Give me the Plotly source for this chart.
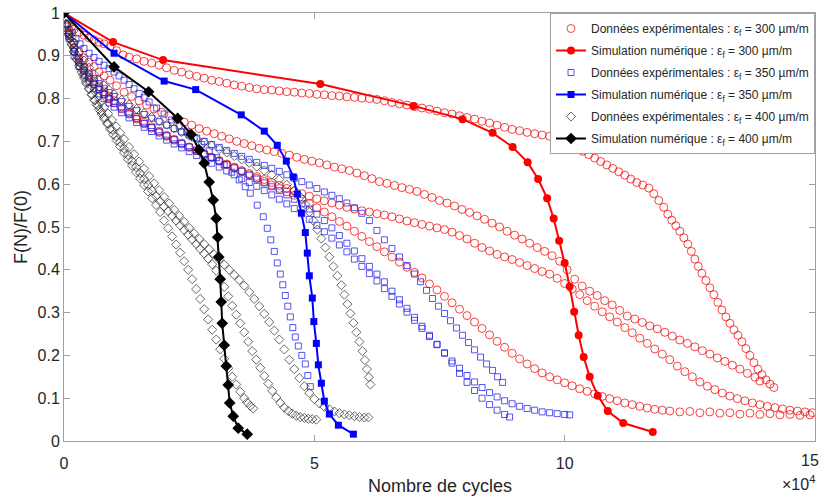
import plotly.graph_objects as go

# ---------------- data (x in units of 10^4 cycles, y = F(N)/F(0)) ----------------
# Experimental, eps_f = 300 um/m (four specimens)
exp300_a = [(0,1),(0.05,0.985),(0.1,0.975),(0.15,0.968),(0.2,0.962),(0.3,0.955),(0.4,0.948),(0.5,0.942),(0.6,0.937),(0.7,0.932),(0.8,0.928),(0.92,0.922),(1.05,0.912),(1.18,0.902),(1.3,0.897),(1.45,0.893),(1.6,0.887),(1.75,0.883),(1.9,0.878),(2.05,0.872),(2.2,0.866),(2.35,0.862),(2.5,0.856),(2.65,0.852),(2.8,0.848),(2.95,0.843),(3.1,0.84),(3.25,0.836),(3.4,0.832),(3.55,0.829),(3.7,0.826),(3.85,0.823),(4.0,0.821),(4.15,0.82),(4.3,0.818),(4.45,0.816),(4.6,0.815),(4.75,0.813),(4.9,0.812),(5.05,0.81),(5.2,0.809),(5.35,0.807),(5.5,0.806),(5.65,0.804),(5.8,0.803),(5.95,0.801),(6.1,0.8),(6.25,0.798),(6.4,0.795),(6.55,0.791),(6.7,0.788),(6.85,0.785),(7.0,0.781),(7.15,0.778),(7.3,0.775),(7.45,0.771),(7.6,0.767),(7.75,0.764),(7.9,0.76),(8.05,0.756),(8.2,0.752),(8.35,0.747),(8.5,0.743),(8.65,0.738),(8.8,0.733),(8.95,0.728),(9.1,0.725),(9.25,0.721),(9.4,0.718),(9.55,0.715),(9.7,0.712),(9.85,0.709),(10.0,0.704),(10.12,0.694),(10.24,0.685),(10.36,0.677),(10.48,0.669),(10.6,0.661),(10.72,0.653),(10.84,0.645),(10.96,0.637),(11.08,0.629),(11.2,0.621),(11.32,0.612),(11.44,0.604),(11.56,0.598),(11.68,0.591),(11.78,0.578),(11.88,0.562),(11.98,0.546),(12.06,0.53),(12.14,0.516),(12.22,0.503),(12.3,0.49),(12.38,0.475),(12.46,0.46),(12.53,0.443),(12.6,0.425),(12.67,0.408),(12.74,0.392),(12.82,0.375),(12.9,0.358),(12.98,0.342),(13.06,0.324),(13.14,0.306),(13.22,0.29),(13.3,0.275),(13.38,0.26),(13.46,0.247),(13.54,0.232),(13.62,0.216),(13.7,0.2),(13.78,0.183),(13.86,0.168),(13.94,0.155),(14.02,0.143),(14.1,0.133),(14.18,0.125)]
exp300_b = [(0,1),(0.1,0.96),(0.2,0.93),(0.3,0.91),(0.4,0.895),(0.5,0.885),(0.6,0.875),(0.7,0.862),(0.8,0.853),(0.92,0.843),(1.05,0.83),(1.2,0.815),(1.35,0.805),(1.5,0.795),(1.65,0.785),(1.8,0.776),(1.95,0.768),(2.1,0.76),(2.25,0.752),(2.4,0.745),(2.55,0.738),(2.7,0.73),(2.85,0.724),(3.0,0.718),(3.15,0.712),(3.3,0.706),(3.45,0.7),(3.6,0.695),(3.75,0.69),(3.9,0.684),(4.05,0.68),(4.2,0.676),(4.35,0.672),(4.5,0.668),(4.65,0.663),(4.8,0.658),(4.95,0.654),(5.1,0.65),(5.25,0.645),(5.4,0.64),(5.55,0.636),(5.7,0.632),(5.85,0.626),(6.0,0.62),(6.15,0.613),(6.3,0.606),(6.45,0.602),(6.6,0.597),(6.75,0.592),(6.9,0.588),(7.05,0.583),(7.2,0.576),(7.35,0.569),(7.5,0.562),(7.65,0.556),(7.8,0.549),(7.95,0.541),(8.1,0.534),(8.25,0.526),(8.4,0.518),(8.55,0.509),(8.7,0.5),(8.85,0.49),(9.0,0.481),(9.15,0.472),(9.3,0.462),(9.45,0.452),(9.6,0.443),(9.75,0.433),(9.9,0.42),(10.05,0.4),(10.2,0.378),(10.35,0.362),(10.5,0.35),(10.65,0.34),(10.8,0.328),(10.95,0.318),(11.1,0.305),(11.25,0.292),(11.4,0.285),(11.55,0.277),(11.7,0.269),(11.85,0.262),(12.0,0.254),(12.15,0.245),(12.3,0.236),(12.45,0.228),(12.6,0.22),(12.75,0.211),(12.9,0.203),(13.05,0.194),(13.2,0.186),(13.35,0.177),(13.5,0.168),(13.65,0.158),(13.8,0.149),(13.9,0.14)]
exp300_c = [(0,1),(0.1,0.952),(0.2,0.918),(0.3,0.893),(0.4,0.872),(0.5,0.856),(0.6,0.841),(0.7,0.828),(0.8,0.816),(0.9,0.805),(1.0,0.795),(1.15,0.781),(1.3,0.768),(1.45,0.756),(1.6,0.745),(1.75,0.734),(1.9,0.724),(2.05,0.714),(2.2,0.705),(2.35,0.696),(2.5,0.687),(2.65,0.679),(2.8,0.671),(2.95,0.663),(3.1,0.655),(3.25,0.647),(3.4,0.64),(3.55,0.632),(3.7,0.625),(3.85,0.618),(4.0,0.611),(4.15,0.604),(4.3,0.597),(4.45,0.59),(4.6,0.584),(4.75,0.578),(4.9,0.572),(5.05,0.566),(5.2,0.561),(5.35,0.556),(5.5,0.551),(5.65,0.546),(5.8,0.542),(5.95,0.538),(6.1,0.535),(6.25,0.531),(6.4,0.528),(6.55,0.524),(6.7,0.519),(6.85,0.514),(7.0,0.51),(7.15,0.506),(7.3,0.502),(7.45,0.498),(7.6,0.494),(7.75,0.488),(7.9,0.48),(8.05,0.472),(8.2,0.462),(8.35,0.452),(8.5,0.444),(8.65,0.436),(8.8,0.43),(8.95,0.424),(9.1,0.417),(9.25,0.41),(9.4,0.403),(9.55,0.396),(9.7,0.39),(9.85,0.38),(10.0,0.368),(10.15,0.355),(10.3,0.342),(10.45,0.328),(10.6,0.315),(10.75,0.302),(10.9,0.29),(11.05,0.278),(11.2,0.265),(11.35,0.253),(11.5,0.24),(11.65,0.228),(11.8,0.215),(11.95,0.203),(12.1,0.19),(12.25,0.175),(12.4,0.162),(12.55,0.15),(12.7,0.138),(12.85,0.128),(13.0,0.12),(13.15,0.112),(13.3,0.105),(13.45,0.099),(13.6,0.094),(13.75,0.089),(13.9,0.085),(14.05,0.081),(14.2,0.078),(14.35,0.075),(14.5,0.072),(14.65,0.07),(14.8,0.068),(14.95,0.066)]
exp300_d = [(0,1),(0.1,0.95),(0.2,0.91),(0.3,0.885),(0.4,0.865),(0.5,0.85),(0.6,0.835),(0.7,0.822),(0.8,0.81),(0.9,0.8),(1.0,0.79),(1.15,0.776),(1.3,0.764),(1.45,0.752),(1.6,0.741),(1.75,0.731),(1.9,0.721),(2.05,0.712),(2.2,0.703),(2.35,0.694),(2.5,0.686),(2.65,0.678),(2.8,0.67),(2.95,0.662),(3.1,0.654),(3.25,0.646),(3.4,0.638),(3.55,0.63),(3.7,0.622),(3.85,0.614),(4.0,0.606),(4.15,0.598),(4.3,0.59),(4.45,0.582),(4.6,0.574),(4.75,0.565),(4.9,0.555),(5.05,0.545),(5.2,0.535),(5.35,0.524),(5.5,0.513),(5.65,0.502),(5.8,0.49),(5.95,0.478),(6.1,0.466),(6.25,0.454),(6.4,0.442),(6.55,0.43),(6.7,0.418),(6.85,0.406),(7.0,0.394),(7.15,0.381),(7.3,0.367),(7.45,0.353),(7.6,0.338),(7.75,0.323),(7.9,0.308),(8.05,0.293),(8.2,0.278),(8.35,0.263),(8.5,0.248),(8.65,0.233),(8.8,0.219),(8.95,0.205),(9.1,0.192),(9.25,0.18),(9.4,0.169),(9.55,0.159),(9.7,0.15),(9.85,0.143),(10.0,0.136),(10.15,0.129),(10.3,0.122),(10.45,0.116),(10.6,0.11),(10.75,0.104),(10.9,0.099),(11.05,0.094),(11.2,0.089),(11.35,0.085),(11.5,0.081),(11.65,0.077),(11.8,0.074),(11.95,0.072),(12.1,0.07),(12.3,0.068),(12.5,0.069),(12.7,0.066),(12.9,0.068),(13.1,0.065),(13.3,0.066),(13.5,0.063),(13.7,0.065),(13.9,0.062),(14.1,0.064),(14.3,0.061),(14.5,0.062),(14.7,0.06),(14.9,0.061)]

# Experimental, eps_f = 350 um/m (four specimens)
exp350_a = [(0,1),(0.08,0.975),(0.16,0.955),(0.24,0.94),(0.32,0.928),(0.4,0.917),(0.5,0.906),(0.6,0.896),(0.7,0.887),(0.8,0.878),(0.9,0.87),(1.0,0.862),(1.1,0.853),(1.2,0.843),(1.3,0.833),(1.4,0.823),(1.5,0.812),(1.6,0.802),(1.7,0.792),(1.85,0.778),(2.0,0.764),(2.15,0.75),(2.3,0.736),(2.45,0.722),(2.6,0.708),(2.75,0.693),(2.9,0.678),(3.05,0.662),(3.2,0.645),(3.35,0.628),(3.5,0.61),(3.62,0.594),(3.72,0.579),(3.86,0.551),(3.98,0.524),(4.06,0.497),(4.13,0.47),(4.2,0.443),(4.26,0.416),(4.32,0.39),(4.37,0.365),(4.42,0.34),(4.47,0.315),(4.52,0.29),(4.57,0.265),(4.62,0.243),(4.68,0.222),(4.75,0.2),(4.82,0.18),(4.87,0.153),(4.92,0.127)]
exp350_b = [(0,1),(0.1,0.95),(0.2,0.92),(0.3,0.895),(0.4,0.875),(0.5,0.86),(0.6,0.847),(0.7,0.835),(0.8,0.824),(0.9,0.814),(1.0,0.805),(1.15,0.793),(1.3,0.782),(1.45,0.772),(1.6,0.763),(1.75,0.754),(1.9,0.746),(2.05,0.738),(2.2,0.73),(2.35,0.722),(2.5,0.715),(2.65,0.708),(2.8,0.7),(2.95,0.693),(3.1,0.686),(3.25,0.679),(3.4,0.672),(3.55,0.665),(3.7,0.658),(3.85,0.651),(4.0,0.644),(4.15,0.637),(4.3,0.63),(4.45,0.622),(4.6,0.614),(4.75,0.606),(4.9,0.598),(5.05,0.59),(5.2,0.582),(5.35,0.574),(5.5,0.566),(5.65,0.556),(5.8,0.545),(5.95,0.532),(6.1,0.515),(6.25,0.492),(6.4,0.47),(6.55,0.45),(6.7,0.43),(6.85,0.41),(7.0,0.39),(7.12,0.372),(7.24,0.352),(7.36,0.333),(7.48,0.315),(7.6,0.298),(7.72,0.281),(7.84,0.264),(7.96,0.247),(8.08,0.23),(8.2,0.213),(8.32,0.196),(8.44,0.18),(8.56,0.165),(8.66,0.15),(8.76,0.137)]
exp350_c = [(0,1),(0.1,0.945),(0.2,0.91),(0.3,0.885),(0.4,0.865),(0.5,0.848),(0.6,0.834),(0.7,0.821),(0.8,0.81),(0.9,0.799),(1.0,0.789),(1.15,0.776),(1.3,0.764),(1.45,0.753),(1.6,0.742),(1.75,0.732),(1.9,0.722),(2.05,0.713),(2.2,0.704),(2.35,0.695),(2.5,0.687),(2.65,0.678),(2.8,0.67),(2.95,0.662),(3.1,0.654),(3.25,0.646),(3.4,0.638),(3.55,0.63),(3.7,0.621),(3.85,0.612),(4.0,0.603),(4.15,0.594),(4.3,0.585),(4.45,0.575),(4.6,0.565),(4.75,0.554),(4.9,0.542),(5.05,0.53),(5.2,0.515),(5.35,0.498),(5.5,0.48),(5.65,0.462),(5.8,0.444),(5.95,0.426),(6.1,0.408),(6.25,0.39),(6.4,0.372),(6.55,0.35),(6.7,0.33),(6.85,0.31),(7.0,0.289),(7.15,0.268),(7.3,0.247),(7.45,0.226),(7.6,0.205),(7.75,0.182),(7.9,0.158),(8.05,0.137),(8.2,0.118),(8.35,0.1),(8.5,0.085),(8.65,0.072),(8.8,0.062),(8.9,0.056)]
exp350_d = [(0,1),(0.1,0.94),(0.2,0.9),(0.3,0.875),(0.4,0.855),(0.5,0.838),(0.6,0.824),(0.7,0.811),(0.8,0.8),(0.9,0.79),(1.0,0.78),(1.15,0.767),(1.3,0.755),(1.45,0.744),(1.6,0.733),(1.75,0.723),(1.9,0.713),(2.05,0.703),(2.2,0.694),(2.35,0.685),(2.5,0.676),(2.65,0.667),(2.8,0.658),(2.95,0.649),(3.1,0.64),(3.25,0.631),(3.4,0.622),(3.55,0.613),(3.7,0.604),(3.85,0.595),(4.0,0.585),(4.15,0.575),(4.3,0.565),(4.45,0.554),(4.6,0.543),(4.75,0.531),(4.9,0.518),(5.05,0.504),(5.2,0.489),(5.35,0.474),(5.5,0.458),(5.65,0.442),(5.8,0.425),(5.95,0.408),(6.1,0.391),(6.25,0.374),(6.4,0.356),(6.55,0.338),(6.7,0.32),(6.85,0.301),(7.0,0.282),(7.15,0.263),(7.3,0.244),(7.45,0.225),(7.6,0.206),(7.75,0.187),(7.9,0.17),(8.05,0.153),(8.2,0.138),(8.35,0.125),(8.5,0.113),(8.65,0.103),(8.8,0.094),(8.95,0.087),(9.1,0.081),(9.25,0.076),(9.4,0.072),(9.55,0.068),(9.7,0.066),(9.85,0.064),(10.0,0.062),(10.1,0.061)]

# Experimental, eps_f = 400 um/m (four specimens)
exp400_a = [(0,1),(0.04,0.975),(0.08,0.955),(0.12,0.94),(0.16,0.925),(0.2,0.91),(0.25,0.893),(0.3,0.877),(0.35,0.862),(0.4,0.848),(0.45,0.835),(0.5,0.822),(0.55,0.809),(0.6,0.797),(0.65,0.786),(0.7,0.775),(0.75,0.764),(0.8,0.753),(0.86,0.741),(0.92,0.729),(0.98,0.716),(1.05,0.702),(1.12,0.688),(1.2,0.673),(1.28,0.658),(1.36,0.643),(1.44,0.628),(1.52,0.613),(1.6,0.598),(1.68,0.583),(1.76,0.567),(1.84,0.551),(1.92,0.535),(2.0,0.515),(2.08,0.497),(2.16,0.478),(2.24,0.459),(2.32,0.44),(2.4,0.42),(2.48,0.4),(2.56,0.378),(2.64,0.355),(2.72,0.332),(2.8,0.308),(2.88,0.284),(2.96,0.26),(3.04,0.237),(3.12,0.214),(3.2,0.192),(3.28,0.17),(3.36,0.15),(3.44,0.132),(3.52,0.115),(3.6,0.1),(3.66,0.09),(3.72,0.082),(3.78,0.076)]
exp400_b = [(0,1),(0.05,0.97),(0.1,0.948),(0.15,0.928),(0.2,0.91),(0.26,0.89),(0.32,0.872),(0.38,0.855),(0.44,0.839),(0.5,0.824),(0.56,0.81),(0.62,0.796),(0.68,0.783),(0.74,0.77),(0.8,0.757),(0.88,0.742),(0.96,0.727),(1.04,0.712),(1.12,0.698),(1.2,0.683),(1.28,0.668),(1.36,0.654),(1.44,0.64),(1.52,0.626),(1.6,0.612),(1.68,0.598),(1.76,0.585),(1.84,0.572),(1.92,0.56),(2.0,0.548),(2.08,0.537),(2.16,0.526),(2.24,0.515),(2.32,0.504),(2.4,0.493),(2.48,0.482),(2.56,0.471),(2.64,0.46),(2.72,0.449),(2.8,0.438),(2.88,0.426),(2.96,0.413),(3.04,0.398),(3.12,0.38),(3.2,0.36),(3.28,0.338),(3.36,0.316),(3.44,0.295),(3.52,0.275),(3.6,0.254),(3.68,0.232),(3.76,0.21),(3.84,0.19),(3.92,0.171),(4.0,0.152),(4.08,0.134),(4.16,0.117),(4.24,0.102),(4.32,0.089),(4.4,0.078),(4.48,0.07),(4.56,0.064),(4.64,0.059),(4.72,0.056),(4.8,0.054),(4.88,0.052),(4.96,0.051),(5.04,0.05)]
exp400_c = [(0,1),(0.05,0.975),(0.1,0.958),(0.15,0.943),(0.2,0.93),(0.3,0.908),(0.4,0.889),(0.5,0.872),(0.6,0.857),(0.7,0.843),(0.8,0.831),(0.9,0.82),(1.0,0.81),(1.15,0.797),(1.3,0.786),(1.45,0.776),(1.6,0.766),(1.75,0.757),(1.9,0.748),(2.05,0.739),(2.2,0.73),(2.35,0.722),(2.5,0.714),(2.65,0.706),(2.8,0.698),(2.95,0.69),(3.1,0.682),(3.25,0.674),(3.4,0.666),(3.55,0.658),(3.7,0.65),(3.85,0.641),(4.0,0.632),(4.15,0.622),(4.3,0.611),(4.45,0.599),(4.6,0.585),(4.72,0.57),(4.82,0.553),(4.9,0.535),(4.98,0.515),(5.06,0.494),(5.14,0.473),(5.22,0.452),(5.3,0.43),(5.38,0.408),(5.46,0.386),(5.54,0.364),(5.6,0.342),(5.66,0.32),(5.72,0.298),(5.78,0.276),(5.84,0.254),(5.9,0.232),(5.96,0.21),(6.01,0.189),(6.05,0.168),(6.09,0.149),(6.12,0.132)]
exp400_d = [(0,1),(0.05,0.972),(0.1,0.952),(0.15,0.934),(0.2,0.918),(0.26,0.9),(0.32,0.884),(0.38,0.869),(0.44,0.855),(0.5,0.842),(0.56,0.829),(0.62,0.816),(0.68,0.804),(0.74,0.792),(0.8,0.78),(0.88,0.765),(0.96,0.75),(1.04,0.735),(1.12,0.72),(1.2,0.705),(1.3,0.687),(1.4,0.67),(1.5,0.653),(1.6,0.636),(1.7,0.619),(1.8,0.602),(1.9,0.586),(2.0,0.57),(2.1,0.555),(2.2,0.54),(2.3,0.526),(2.4,0.512),(2.5,0.498),(2.6,0.485),(2.7,0.472),(2.8,0.46),(2.9,0.448),(3.0,0.436),(3.1,0.424),(3.2,0.412),(3.3,0.4),(3.4,0.388),(3.5,0.376),(3.6,0.363),(3.7,0.348),(3.8,0.332),(3.9,0.315),(4.0,0.297),(4.1,0.278),(4.2,0.258),(4.3,0.237),(4.4,0.214),(4.5,0.19),(4.6,0.168),(4.7,0.147),(4.8,0.128),(4.9,0.112),(5.0,0.098),(5.1,0.088),(5.2,0.08),(5.3,0.074),(5.4,0.069),(5.5,0.065),(5.6,0.062),(5.7,0.06),(5.8,0.058),(5.9,0.056),(6.0,0.055),(6.08,0.055)]

# Numerical simulations
sim300_x = [0, 0.98, 1.98, 5.12, 6.98, 7.96, 8.56, 8.96, 9.26, 9.47, 9.65, 9.78, 9.89, 10.0, 10.1, 10.19, 10.28, 10.38, 10.5, 10.66, 10.86, 11.17, 11.76]
sim300_y = [1, 0.932, 0.89, 0.834, 0.783, 0.752, 0.72, 0.687, 0.651, 0.612, 0.567, 0.52, 0.468, 0.416, 0.361, 0.302, 0.247, 0.196, 0.15, 0.106, 0.07, 0.042, 0.021]
sim350_x = [0, 1.0, 2.0, 2.63, 3.54, 4.0, 4.26, 4.44, 4.58, 4.66, 4.74, 4.82, 4.86, 4.9, 4.96, 4.99, 5.04, 5.08, 5.14, 5.2, 5.3, 5.48, 5.78]
sim350_y = [1, 0.906, 0.841, 0.821, 0.762, 0.724, 0.691, 0.654, 0.617, 0.577, 0.533, 0.487, 0.439, 0.386, 0.334, 0.279, 0.228, 0.178, 0.135, 0.093, 0.063, 0.037, 0.016]
sim400_x = [0, 1.0, 1.69, 2.27, 2.54, 2.7, 2.8, 2.9, 2.98, 3.04, 3.07, 3.09, 3.12, 3.14, 3.16, 3.2, 3.24, 3.28, 3.31, 3.38, 3.48, 3.66]
sim400_y = [1, 0.874, 0.816, 0.754, 0.716, 0.68, 0.649, 0.605, 0.563, 0.52, 0.476, 0.43, 0.378, 0.325, 0.275, 0.224, 0.175, 0.131, 0.089, 0.058, 0.03, 0.016]

x_ticks = [0, 5, 10, 15]
x_tick_labels = ["0", "5", "10", ""]
x_last_label = "15"
legend_names = [
    "Données expérimentales : ε<sub>f</sub> = 300 µm/m",
    "Simulation numérique : ε<sub>f</sub> = 300 µm/m",
    "Données expérimentales : ε<sub>f</sub> = 350 µm/m",
    "Simulation numérique : ε<sub>f</sub> = 350 µm/m",
    "Données expérimentales : ε<sub>f</sub> = 400 µm/m",
    "Simulation numérique : ε<sub>f</sub> = 400 µm/m",
]

def xs(*curves):
    return [p[0] for c in curves for p in c]

def ys(*curves):
    return [p[1] for c in curves for p in c]

fig = go.Figure()

# experimental markers first (drawn underneath), simulations on top
exp_sets = [
    ((exp300_a, exp300_b, exp300_c, exp300_d), "circle-open", 8, "rgba(245,20,20,0.8)", 0),
    ((exp350_a, exp350_b, exp350_c, exp350_d), "square-open", 6, "rgba(30,30,235,0.75)", 2),
    ((exp400_a, exp400_b, exp400_c, exp400_d), "diamond-open", 7, "rgba(40,40,40,0.7)", 4),
]
for curves, sym, size, col, ni in exp_sets:
    fig.add_trace(go.Scatter(
        x=xs(*curves), y=ys(*curves), mode="markers", name=legend_names[ni],
        legendrank=ni + 1, legendgroup="g%d" % ni,
        marker=dict(symbol=sym, size=size, color=col, line=dict(width=1, color=col)),
    ))

sims = [
    (sim300_x, sim300_y, "circle", 8, "#ff0000", 1),
    (sim350_x, sim350_y, "square", 7, "#0000ff", 3),
    (sim400_x, sim400_y, "diamond", 9, "#000000", 5),
]
for sx, sy, sym, size, col, ni in sims:
    fig.add_trace(go.Scatter(
        x=sx, y=sy, mode="lines+markers", name=legend_names[ni],
        legendrank=ni + 1, legendgroup="g%d" % ni,
        line=dict(color=col, width=2),
        marker=dict(symbol=sym, size=size, color=col),
    ))

axis_col = "#a0a0a0"
fig.update_layout(
    width=821, height=496,
    margin=dict(l=64, r=6, t=13, b=55),
    paper_bgcolor="white", plot_bgcolor="white",
    font=dict(family="Liberation Sans, Arial, sans-serif", color="#262626"),
    showlegend=True,
    legend=dict(
        x=1, y=1, xanchor="right", yanchor="top",
        bgcolor="white", bordercolor="#a0a0a0", borderwidth=1,
        font=dict(size=12, color="#262626"),
        tracegroupgap=3, traceorder="grouped",
    ),
    xaxis=dict(
        range=[0, 15], tickvals=x_ticks, ticktext=x_tick_labels,
        showline=True, linecolor=axis_col, linewidth=1, mirror="ticks",
        ticks="inside", ticklen=6, tickcolor=axis_col,
        showgrid=False, zeroline=False,
        tickfont=dict(size=16, color="#262626"),
        ticklabelstandoff=8,
    ),
    yaxis=dict(
        range=[0, 1], dtick=0.1, tick0=0,
        showline=True, linecolor=axis_col, linewidth=1, mirror="ticks",
        ticks="inside", ticklen=6, tickcolor=axis_col,
        showgrid=False, zeroline=False,
        tickfont=dict(size=16, color="#262626"),
    ),
    annotations=[
        dict(text="Nombre de cycles", xref="paper", yref="paper", x=0.5, y=0,
             xanchor="center", yanchor="top", yshift=-33, showarrow=False,
             font=dict(size=18, color="#262626")),
        dict(text="F(N)/F(0)", xref="paper", yref="paper", x=0, y=0.5,
             xanchor="center", yanchor="middle", xshift=-43, textangle=-90,
             showarrow=False, font=dict(size=18, color="#262626")),
        dict(text="×10<sup>4</sup>", xref="paper", yref="paper", x=1, y=0,
             xanchor="right", yanchor="top", yshift=-30, xshift=2, showarrow=False,
             font=dict(size=16, color="#262626")),
        dict(text=x_last_label, xref="x", yref="paper", x=x_ticks[-1], y=0,
             xanchor="center", yanchor="top", yshift=-9, xshift=-5, showarrow=False,
             font=dict(size=16, color="#262626")),
    ],
)

fig.write_html("out.html", config={"displayModeBar": False},
               post_script="document.body.style.margin='0';")
